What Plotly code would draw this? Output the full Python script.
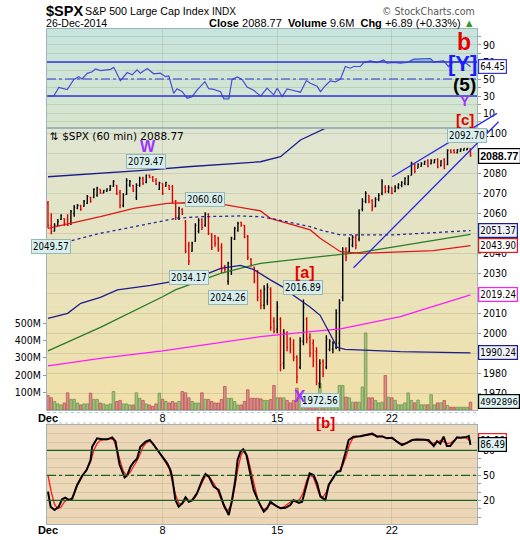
import plotly.graph_objects as go

# ---------------- data ----------------
tick_pos = [0, 35, 70, 105]
tick_text = ["<b>Dec</b>", "8", "15", "22"]

bar_open = [2065, 2054, 2051, 2054, 2057, 2057.3, 2057, 2055, 2060, 2062.5,
            2064, 2063.5, 2065, 2068, 2068, 2069, 2072, 2070.2, 2071, 2071.5,
            2073.5, 2074, 2070.5, 2064, 2069.5, 2074, 2074, 2068, 2074, 2077.5,
            2075.5, 2079, 2078, 2076.5, 2072, 2075, 2073.5, 2074, 2073.5, 2066,
            2058, 2062, 2056, 2044, 2041, 2046, 2051, 2057, 2054, 2059.5,
            2049.5, 2048.5, 2047.5, 2043, 2033.5, 2026, 2031, 2047, 2051.5, 2055.5,
            2054, 2048.5, 2037, 2033, 2030, 2021, 2014, 2016, 2022, 2006,
            2002, 2007, 1985, 2000, 1997, 1994, 1988, 1983, 1996, 2007,
            1998, 1995, 1991, 1975, 1986, 1983, 1992, 1992, 1993, 1995,
            2018, 2042, 2041, 2044, 2048, 2047, 2062, 2066, 2069, 2066.5,
            2063.5, 2067, 2070, 2073, 2071, 2073, 2071, 2073, 2074, 2075,
            2074.5, 2079, 2084.5, 2082.5, 2083.5, 2084.5, 2086.5, 2084.8, 2085.3, 2087,
            2083.8, 2087, 2084.5, 2091.5, 2091.5, 2090.3, 2091, 2091.5, 2091.8, 2092.3]
bar_high = [2066.2, 2060.0, 2055.0, 2057.2, 2059.5, 2057.5, 2059.5, 2061.7, 2064.2, 2064.7,
            2064.2, 2066.7, 2069.2, 2068.3, 2072.5, 2073.3, 2072.0, 2071.7, 2072.5, 2074.2,
            2076.7, 2074.2, 2071.7, 2070.0, 2077.5, 2076.7, 2074.2, 2075.0, 2078.3, 2078.3,
            2079.47, 2079.4, 2078.7, 2077.5, 2075.8, 2075.0, 2075.8, 2074.2, 2074.2, 2066.7,
            2063.3, 2062.5, 2056.7, 2045.8, 2045.8, 2055.0, 2057.5, 2057.5, 2060.6, 2060.0,
            2050.0, 2049.2, 2048.3, 2045.0, 2034.2, 2035.8, 2048.3, 2053.3, 2055.8, 2055.8,
            2054.2, 2049.2, 2037.5, 2033.3, 2031.7, 2022.0, 2024.0, 2025.0, 2023.0, 2008.0,
            2016.0, 2008.0, 2002.0, 2001.0, 1998.0, 1997.0, 1989.0, 1998.0, 2016.89, 2008.0,
            2000.0, 1997.0, 1993.0, 1987.0, 1987.0, 1999.0, 1997.0, 1996.0, 2012.0, 2017.0,
            2043.0, 2043.0, 2048.0, 2049.0, 2049.0, 2062.0, 2067.5, 2071.0, 2069.0, 2067.0,
            2068.0, 2070.0, 2077.0, 2074.0, 2074.0, 2073.0, 2074.0, 2075.0, 2076.0, 2078.0,
            2079.0, 2085.8, 2085.0, 2085.0, 2085.5, 2086.3, 2087.0, 2087.0, 2087.0, 2087.5,
            2086.5, 2087.5, 2092.0, 2092.0, 2092.0, 2092.2, 2092.5, 2092.6, 2092.7, 2092.5]
bar_low = [2052.5, 2049.57, 2051.0, 2053.7, 2056.7, 2053.7, 2053.7, 2054.2, 2058.3, 2062.0,
           2061.3, 2063.3, 2064.7, 2065.3, 2067.5, 2068.3, 2069.7, 2070.0, 2070.8, 2071.3,
           2073.3, 2069.2, 2062.5, 2063.0, 2069.2, 2073.3, 2070.8, 2066.7, 2073.3, 2074.2,
           2075.0, 2077.5, 2075.8, 2074.2, 2071.7, 2069.2, 2073.3, 2071.7, 2065.0, 2056.7,
           2056.7, 2059.2, 2040.0, 2034.17, 2040.8, 2045.8, 2050.0, 2051.7, 2053.3, 2049.2,
           2041.7, 2043.3, 2040.8, 2030.0, 2030.8, 2024.26, 2029.2, 2046.7, 2050.8, 2053.3,
           2047.5, 2036.7, 2033.3, 2025.0, 2016.0, 2012.0, 2012.0, 2014.0, 2001.3, 2000.0,
           2000.0, 1981.0, 1982.0, 1991.0, 1990.0, 1986.0, 1975.0, 1982.0, 1994.0, 1995.0,
           1988.0, 1983.0, 1974.0, 1972.56, 1978.0, 1982.0, 1991.0, 1990.0, 1992.0, 1991.0,
           2016.0, 2036.0, 2040.0, 2043.0, 2042.0, 2046.0, 2061.0, 2065.0, 2065.0, 2061.0,
           2063.0, 2066.0, 2069.0, 2070.0, 2070.0, 2069.5, 2070.5, 2072.0, 2073.0, 2074.0,
           2074.0, 2079.0, 2080.0, 2082.5, 2083.3, 2084.2, 2083.0, 2084.5, 2085.0, 2082.5,
           2083.5, 2082.0, 2084.0, 2090.0, 2090.0, 2090.0, 2090.8, 2091.3, 2091.5, 2088.3]
bar_close = [2054, 2051, 2054, 2056, 2059, 2055, 2054, 2061, 2063, 2064,
             2062, 2066, 2068.5, 2066, 2072, 2072.5, 2070, 2071.4, 2072, 2073.8,
             2076, 2070, 2064, 2069, 2076.5, 2076, 2071, 2074, 2077.5, 2075,
             2079, 2078, 2076, 2074.5, 2075.3, 2070, 2075.5, 2072, 2066, 2058,
             2062.5, 2060, 2041, 2036, 2045, 2054, 2056.5, 2053, 2059.5, 2050,
             2043, 2045, 2042, 2032, 2032, 2035, 2047.5, 2052.5, 2055, 2054,
             2048, 2038, 2034, 2026, 2018, 2014, 2022, 2023, 2003, 2001,
             2013, 1984, 2000, 1993, 1992, 1988, 1978, 1996, 2013, 1997,
             1990, 1986, 1976, 1985, 1980, 1997, 1996, 1995, 2010, 2015,
             2040, 2038, 2047, 2048, 2044, 2060, 2066, 2070, 2066, 2063,
             2067, 2069, 2076, 2071, 2073, 2070, 2073, 2074.5, 2075.5, 2077.5,
             2078.5, 2085, 2081, 2084.5, 2085, 2086, 2083.5, 2086.5, 2086.8, 2083,
             2086.2, 2082.5, 2091.5, 2090.5, 2090.3, 2091.8, 2092.2, 2092.5, 2092.4, 2088.77]
volume_m = [83, 70, 49, 35, 29, 40, 99, 61, 61, 40,
            29, 35, 35, 97, 61, 61, 40, 35, 29, 35,
            106, 49, 55, 35, 35, 29, 29, 99, 67, 55,
            35, 29, 21, 35, 97, 61, 49, 40, 49, 40,
            49, 106, 99, 70, 49, 40, 40, 99, 61, 61,
            49, 40, 40, 61, 135, 67, 67, 49, 29, 29,
            49, 116, 67, 67, 67, 64, 55, 55, 60, 141,
            70, 70, 70, 55, 41, 55, 125, 70, 83, 55,
            70, 41, 55, 154, 74, 55, 83, 70, 70, 141,
            141, 74, 70, 45, 45, 45, 132, 443, 70, 70,
            55, 41, 45, 198, 74, 70, 55, 30, 30, 41,
            98, 55, 41, 57, 30, 30, 30, 88, 30, 41,
            41, 55, 26, 16, 16, 16, 16, 16, 16, 45]

# overlays on the price panel (bar index, price)
bb_up_x = [0, 16, 31.3, 42.6, 64.9, 71, 77.1, 85.3, 89.3, 129]
bb_up_y = [2078.3, 2080, 2081.7, 2083.3, 2085.8, 2088.3, 2096.7, 2103, 2105.5, 2112.5]
bb_mid_x = [0, 6, 16, 39.2, 46.5, 58.8, 64.9, 67.9, 80.1, 83.1, 89.3, 105.5, 129]
bb_mid_y = [2044.5, 2045.8, 2050, 2057.5, 2058.3, 2058.7, 2058.3, 2057.5, 2053.3, 2051.7, 2049.2, 2049.2, 2051.37]
bb_lo_x = [0, 6, 10, 16, 21.2, 31.3, 46.5, 52.7, 58.8, 62.7, 67.9, 71.9, 74.9, 80.1, 83.1, 85.3, 88.3, 90.7, 107.6, 129]
bb_lo_y = [2007.5, 2010, 2015, 2018, 2021.7, 2024, 2028.3, 2032.5, 2034, 2032, 2026.7, 2023, 2019, 2013, 2009, 2002, 1993, 1992, 1990.8, 1990.24]
ma_red_x = [0, 5.9, 16, 26.2, 36.4, 42.5, 51.7, 64.9, 67.9, 80.1, 83.1, 89.3, 95.4, 117.7, 129]
ma_red_y = [2052.5, 2054.5, 2058.3, 2062.5, 2065, 2065.3, 2065, 2061.2, 2057.5, 2051.7, 2047.5, 2040.8, 2040, 2041.3, 2043.9]
ma_green_x = [0, 16, 35, 38.9, 52.7, 64.9, 83.1, 95.4, 129]
ma_green_y = [1991.2, 2003, 2018.3, 2021.7, 2030, 2035, 2038.3, 2040.5, 2049.5]
ma_mag_x = [0, 16, 35, 64.9, 80.1, 89.3, 107.6, 129]
ma_mag_y = [1983.7, 1987.5, 1991.2, 1998.3, 2000.8, 2002.2, 2008.3, 2019.24]

# RSI (top panel)
rsi_x = [0, 1.8, 3.3, 5.9, 7.9, 9.4, 10.4, 12, 13.5, 14.5,
         16, 19.1, 20.1, 22.1, 24.2, 25.7, 27.2, 28.2, 30.3, 32.3,
         34.3, 35.9, 36.9, 38.4, 39.4, 41, 42.5, 44, 45.5, 46.5,
         47.9, 49.1, 50.6, 52.7, 53.7, 55.2, 56.2, 57.8, 59.3, 60.8,
         62.8, 64.9, 66.9, 68.9, 70, 71.5, 73, 75, 77.1, 78.9,
         80.1, 82.2, 83.2, 84.7, 86.2, 87.8, 89.3, 90.8, 92.3, 93.3,
         95.4, 96.4, 98.4, 100.5, 102.5, 103.5, 105.6, 107.6, 109.6, 111.7,
         113.7, 116.8, 117.8, 120.8, 122.3, 123.8, 125.9, 127.9, 129]
rsi_v = [30, 30, 40, 37.6, 49.6, 52.7, 50, 56.7, 58.6, 61.8,
         59.8, 61.4, 63.7, 48, 57.6, 54.9, 60.8, 56.9, 62.4, 56.1,
         56.8, 52.7, 53.5, 33.2, 38.6, 35.1, 27.3, 29.3, 37, 41,
         46.9, 38.6, 37.8, 35.1, 26.5, 26.5, 49.2, 52.3, 49.2, 40.6,
         36.8, 29.8, 39.2, 31.4, 39.2, 29.4, 38.4, 36.5, 34.5, 48.2,
         45, 41.4, 35.1, 42.1, 47.8, 46.7, 49.8, 64.7, 62.7, 64.7,
         64.7, 69.4, 71.4, 69.4, 72.5, 68.6, 69.4, 68.6, 69.4, 73.3,
         73.3, 74.1, 70.2, 71.4, 64.7, 70.2, 70.6, 68, 64.45]

# Slow stochastic (bottom panel)
stk_x = [0, 0.8, 2, 3.3, 4.3, 5.3, 6.4, 7.4, 8.9, 10.4,
         11.8, 13, 13.5, 15, 16.5, 18.1, 19.6, 20.6, 21.6, 21.9,
         23.4, 24.2, 25.2, 26.2, 27.2, 28.2, 29.8, 31.1, 32.3, 34.3,
         35.3, 36.4, 37.4, 37.9, 38.9, 39.9, 41, 42, 43, 44,
         45.5, 47.1, 48.1, 49.1, 50.6, 52.1, 53.7, 55.2, 56.2, 57.2,
         57.9, 58.8, 59.6, 60.6, 61.3, 62.8, 64.3, 65.9, 66.9, 67.9,
         69.4, 71, 72.5, 74, 75, 76.6, 77.6, 78.6, 79.9, 81.1,
         82.2, 83.2, 84.7, 85.7, 87.2, 88.3, 89.3, 90.3, 90.8, 91.8,
         93.3, 95.4, 97.4, 99, 100.5, 102, 103.5, 105.1, 106.6, 108.1,
         109.6, 111.2, 112.7, 114.7, 116.2, 117.8, 118.8, 119.8, 120.8, 121.8,
         122.8, 124.9, 125.9, 127.4, 128.5, 129]
stk_k = [30.4, 12.4, 8.4, 12.4, 21.2, 23.2, 20.4, 22, 38.4, 49.2,
         56.4, 68.4, 84.4, 94.4, 93.2, 93.2, 95.6, 91, 68.4, 62.4,
         47.6, 50, 60.4, 66, 70, 84.4, 90.4, 92.4, 86.4, 76.4,
         70.4, 64.4, 56.4, 48.4, 20.4, 12.4, 16.4, 23.6, 18.4, 20,
         28.4, 44.4, 51.6, 48.4, 36.4, 32.4, 14.4, 2.4, 20.4, 44.4,
         68.4, 78.4, 81.2, 74.4, 60, 32.4, 18.4, 6.4, 10.4, 18.4,
         14, 10.4, 11, 14.4, 20.4, 17, 18.4, 32.4, 52.4, 50.4,
         40, 24.4, 20.4, 38.4, 48.4, 54.4, 55, 68.4, 76.4, 92.4,
         96.4, 97, 98.4, 100, 96.4, 97, 94.4, 95, 90.4, 86.4,
         89, 92.4, 93, 93, 92.4, 85.2, 91, 88, 96.4, 85.2,
         85.2, 95.6, 95, 95.6, 97.2, 86.49]
std_d = [50, 30, 15, 10, 12, 18, 21, 21, 28, 38,
         45, 52, 58, 66, 80, 88, 92, 93, 93, 94,
         93, 82, 68, 55, 50, 53, 60, 66, 74, 84,
         89, 91, 89, 83, 77, 72, 65, 58, 42, 26,
         16, 16, 20, 20, 20, 24, 33, 42, 49, 50,
         44, 38, 30, 20, 10, 8, 15, 35, 58, 75,
         80, 72, 55, 36, 22, 12, 9, 12, 16, 15,
         12, 11, 12, 15, 18, 19, 18, 22, 30, 44,
         50, 48, 36, 26, 24, 30, 40, 47, 52, 56,
         62, 72, 86, 94, 96, 97, 98, 98, 99, 99,
         98, 97, 96, 95, 95, 94, 92, 89, 88, 88,
         90, 92, 93, 93, 93, 93, 91, 88, 89, 90,
         92, 90, 88, 89, 92, 95, 95, 96, 94, 91]

# labelled turning points (bar index, price, text, side)
pivots = [(30, 2079.47, "2079.47", "above"), (48, 2060.60, "2060.60", "above"),
          (1, 2049.57, "2049.57", "below"), (43, 2034.17, "2034.17", "below"),
          (55, 2024.26, "2024.26", "below"), (78, 2016.89, "2016.89", "above"),
          (83, 1972.56, "1972.56", "below"), (128, 2092.70, "2092.70", "above")]

# wedge trend lines (bar index, price)
trend_x = [[105.1, 137.1], [93.3, 137.6]]
trend_y = [[2078.3, 2110.0], [2032.8, 2105.8]]

# ---------------- layout helpers ----------------
W, H = 520, 540
def PX(v): return v / W
def PY(v): return 1 - v / H

X_L, X_R = 47, 477
DX = [PX(X_L), PX(X_R)]
D_RSI = [PY(128), PY(29)]
D_MAIN = [PY(410), PY(128)]
D_STO = [PY(524), PY(425)]
XR = [-0.3, 131.0]
YR = [1961.65, 2102.67]
RSI_R = [-7.6, 108.8]
STO_R = [-8.4, 110.4]
VOL_R = [0, 1621e6]

FONT = "DejaVu Sans Condensed, Liberation Sans, sans-serif"
HFONT = "Liberation Sans, Arial, sans-serif"
BORDER = "#9fb4b8"
GRID = "rgba(150,150,130,0.28)"

idx = list(range(len(bar_close)))
up = [c >= o for o, c in zip(bar_open, bar_close)]

fig = go.Figure()

# volume
fig.add_trace(go.Bar(
    x=idx, y=[v * 1e6 for v in volume_m], width=0.8,
    marker=dict(color=["#a2c07e" if u else "#db8d8d" for u in up],
                line=dict(color=["#6a8f45" if u else "#b14f4f" for u in up], width=0.7)),
    xaxis="x", yaxis="y", hoverinfo="skip", showlegend=False))

def line(xs, ys, color, width=1.3, dash="solid", xa="x", ya="y2", **kw):
    fig.add_trace(go.Scatter(x=xs, y=ys, mode="lines", line=dict(color=color, width=width, dash=dash),
                             xaxis=xa, yaxis=ya, hoverinfo="skip", showlegend=False, **kw))

line(ma_mag_x, ma_mag_y, "#ff1aff")
line(ma_green_x, ma_green_y, "#2a7a2a")
line(ma_red_x, ma_red_y, "#e01818")
line(bb_mid_x, bb_mid_y, "#27279a", 1.3, "dot")
line(bb_up_x, bb_up_y, "#1c1c8c")
line(bb_lo_x, bb_lo_y, "#1c1c8c")

fig.add_trace(go.Ohlc(
    x=idx, open=bar_open, high=bar_high, low=bar_low, close=bar_close,
    increasing=dict(line=dict(color="#000000", width=1.4)),
    decreasing=dict(line=dict(color="#e00000", width=1.4)),
    tickwidth=0.3, xaxis="x", yaxis="y2", hoverinfo="skip", showlegend=False))

# RSI overbought / oversold shading
line(rsi_x, [70] * len(rsi_x), "rgba(0,0,0,0)", 0, xa="x2", ya="y3")
line(rsi_x, [max(v, 70) for v in rsi_v], "rgba(0,0,0,0)", 0, xa="x2", ya="y3",
     fill="tonexty", fillcolor="rgba(80,170,170,0.55)")
line(rsi_x, [30] * len(rsi_x), "rgba(0,0,0,0)", 0, xa="x2", ya="y3")
line(rsi_x, [min(v, 30) for v in rsi_v], "rgba(0,0,0,0)", 0, xa="x2", ya="y3",
     fill="tonexty", fillcolor="rgba(80,170,170,0.55)")
# RSI
line(rsi_x, rsi_v, "#4a4ad8", 1.2, xa="x2", ya="y3")
# stochastics
line(idx, std_d, "#ff1a1a", 1.3, xa="x3", ya="y4")
line(stk_x, stk_k, "#000000", 2.0, xa="x3", ya="y4")
# trend lines
for tx, ty in zip(trend_x, trend_y):
    line(tx, ty, "#2a2ae6", 1.3, xa="x4", ya="y5")

shapes = []
def gradient(y_top, y_bot, c_top, c_bot, n=40):
    for k in range(n):
        t = (k + 0.5) / n
        col = tuple(round(a + (b - a) * t) for a, b in zip(c_top, c_bot))
        ya = y_top + (y_bot - y_top) * k / n
        yb = y_top + (y_bot - y_top) * (k + 1) / n + 0.6
        shapes.append(dict(type="rect", xref="paper", yref="paper", x0=DX[0], x1=DX[1],
                           y0=PY(min(yb, y_bot)), y1=PY(ya), fillcolor="rgb(%d,%d,%d)" % col,
                           line=dict(width=0), layer="below"))

gradient(29, 128, (198, 228, 222), (214, 229, 204))
gradient(128, 410, (222, 229, 210), (241, 224, 168))
gradient(425, 524, (236, 216, 186), (236, 214, 180), n=4)

for v, d in [(70, "solid"), (30, "solid"), (50, "dashdot")]:
    shapes.append(dict(type="line", xref="x2 domain", yref="y3", x0=0, x1=1, y0=v, y1=v,
                       line=dict(color="#3535d8", width=1.3 if d == "solid" else 1.1, dash=d)))
for v, d in [(80, "solid"), (20, "solid"), (50, "dashdot")]:
    shapes.append(dict(type="line", xref="x3 domain", yref="y4", x0=0, x1=1, y0=v, y1=v,
                       line=dict(color="#1d5e22", width=1.3 if d == "solid" else 1.1, dash=d)))
# dotted separators of the date strip
for yy in [412.5, 423]:
    shapes.append(dict(type="line", xref="paper", yref="paper", x0=DX[0], x1=DX[1], y0=PY(yy), y1=PY(yy),
                       line=dict(color="#b8c8cc", width=1, dash="dot")))

ann = []
def txt(x, y, s, size, color="#000", font=HFONT, xanchor="left", yanchor="middle", **kw):
    ann.append(dict(x=PX(x), y=PY(y), xref="paper", yref="paper", text=s, showarrow=False,
                    xanchor=xanchor, yanchor=yanchor, font=dict(family=font, size=size, color=color), **kw))

# header
txt(44, 10.5, "<b>$SPX</b>", 14.5)
txt(83, 11, "S&P 500 Large Cap Index", 10.7)
txt(210, 11.5, "INDX", 10)
txt(477, 11, "© StockCharts.com", 10.5, color="#555", xanchor="right",
    font="Liberation Sans Narrow, DejaVu Sans Condensed, sans-serif")
txt(44, 23.5, "26-Dec-2014", 10.6)
txt(477, 23.5, "<b>Close</b> 2088.77  <b>Volume</b> 9.6M  <b>Chg</b> +6.89 (+0.33%) "
    "<span style='color:#2c9a2c'>▲</span>", 11, xanchor="right")
txt(48, 135.5, "⇅ $SPX (60 min) 2088.77", 10.5, font="DejaVu Sans, sans-serif")

# pivot boxes
for bi, pv, s, side in pivots:
    ann.append(dict(x=bi, y=pv, xref="x", yref="y2", text=s, showarrow=False,
                    xanchor="center", yanchor="bottom" if side == "above" else "top",
                    yshift=5 if side == "above" else -5,
                    bgcolor="#d8eeec", bordercolor="#98b6b6", borderwidth=1, borderpad=1,
                    font=dict(family=FONT, size=9.6, color="#000")))

# wave labels
txt(463.5, 42, "<b>b</b>", 23, color="#e60000", xanchor="center")
txt(462.5, 63, "<b>[Y]</b>", 22, color="#1c1cff", xanchor="center")
txt(464, 84, "<b>(5)</b>", 19, color="#000", xanchor="center")
txt(465, 101, "<b>Y</b>", 14, color="#a033ff", xanchor="center")
txt(465, 119.5, "<b>[c]</b>", 15, color="#e60000", xanchor="center")
txt(147.5, 147, "<b>W</b>", 16, color="#a033ff", xanchor="center")
txt(305, 272.5, "<b>[a]</b>", 16, color="#e60000", xanchor="center")
txt(300, 396.5, "<b>X</b>", 17, color="#a033ff", xanchor="center")
txt(325.5, 422, "<b>[b]</b>", 15, color="#e60000", xanchor="center")

def tag(yref, yv, s, border, bg="#ffffff", bold=False, size=9.6, font=FONT):
    ann.append(dict(x=PX(478), y=yv, xref="paper", yref=yref,
                    text="<b>%s</b>" % s if bold else s, showarrow=False,
                    xanchor="left", yanchor="middle", bgcolor=bg, bordercolor=border,
                    borderwidth=1.2, borderpad=1, font=dict(family=font, size=size, color="#000")))

tag("y3", 64.45, "64.45", "#3535d8")
tag("y2", 2048.2, "2049.81", "#2a7a2a")
tag("y2", 2051.37, "2051.37", "#1c1c8c", bg="#eef2f8")
tag("y2", 2043.90, "2043.90", "#e01818")
tag("y2", 2019.24, "2019.24", "#ff1aff")
tag("y2", 1990.24, "1990.24", "#1c1c8c", bg="#eef2f8")
tag("paper", PY(401.5), "4992896", "#000", bg="#e2f4f4", size=9.4)
tag("y2", 2088.77, "2088.77", "#000", bold=True, size=10.6, font=HFONT)
tag("paper", PY(440), "91.28", "#ff1a1a")
tag("y4", 86.49, "86.49", "#000", bg="#dff2f2")

axis_common = dict(showline=True, linecolor=BORDER, linewidth=1, mirror=True, zeroline=False,
                   automargin=False)
xcommon = dict(domain=DX, range=XR, tickvals=tick_pos, ticktext=tick_text, showgrid=True,
               gridcolor=GRID, ticks="", tickfont=dict(family=HFONT, size=11, color="#000"), **axis_common)

price_ticks = list(range(1970, 2101, 10))
fig.update_layout(
    template="none",
    width=W, height=H, margin=dict(l=0, r=0, t=0, b=0, pad=0), autosize=False,
    paper_bgcolor="#ffffff", plot_bgcolor="rgba(0,0,0,0)", showlegend=False,
    bargap=0,
    xaxis=dict(anchor="y", rangeslider=dict(visible=False), ticklabelstandoff=-2, **xcommon),
    yaxis=dict(domain=D_MAIN, range=VOL_R, side="left", anchor="x",
               tickvals=[1e8, 2e8, 3e8, 4e8, 5e8], ticktext=["100M", "200M", "300M", "400M", "500M"],
               showgrid=False, ticks="outside", ticklen=3, tickcolor="#999",
               tickfont=dict(family=FONT, size=10.5, color="#000"), **axis_common),
    yaxis2=dict(overlaying="y", anchor="x", side="right", range=YR, tickvals=price_ticks,
                ticktext=[str(v) for v in price_ticks], showgrid=True, gridcolor=GRID,
                ticks="outside", ticklen=3, tickcolor="#999", zeroline=False, showline=False,
                automargin=False, tickfont=dict(family=FONT, size=10.5, color="#000")),
    xaxis2=dict(anchor="y3", showticklabels=False, **{k: v for k, v in xcommon.items() if k != "tickfont"}),
    yaxis3=dict(domain=D_RSI, range=RSI_R, anchor="x2", side="right",
                tickvals=list(range(0, 101, 10)),
                ticktext=["", "10", "", "30", "", "50", "", "70", "", "90", ""],
                showgrid=True, gridcolor=GRID, ticks="outside", ticklen=3, tickcolor="#999",
                tickfont=dict(family=FONT, size=10.5, color="#000"), **axis_common),
    xaxis3=dict(anchor="y4", ticklabelstandoff=-4, **xcommon),
    yaxis4=dict(domain=D_STO, range=STO_R, anchor="x3", side="right",
                tickvals=list(range(0, 101, 10)),
                ticktext=["", "", "20", "", "", "50", "", "", "80", "", ""],
                showgrid=True, gridcolor=GRID, ticks="outside", ticklen=3, tickcolor="#999",
                tickfont=dict(family=FONT, size=10.5, color="#000"), **axis_common),
    xaxis4=dict(domain=[PX(X_L), PX(500)], anchor="y5", visible=False, automargin=False,
                range=[XR[0], XR[0] + (XR[1] - XR[0]) * (500 - X_L) / (X_R - X_L)]),
    yaxis5=dict(domain=[PY(410), PY(108)], anchor="x4", visible=False, automargin=False,
                range=[YR[0], YR[0] + (YR[1] - YR[0]) * (410 - 108) / (410 - 128)]),
    shapes=shapes, annotations=ann,
)

fig.write_html("out.html", config={"displayModeBar": False, "staticPlot": True},
               post_script="document.body.style.margin='0px';document.body.style.padding='0px';")
